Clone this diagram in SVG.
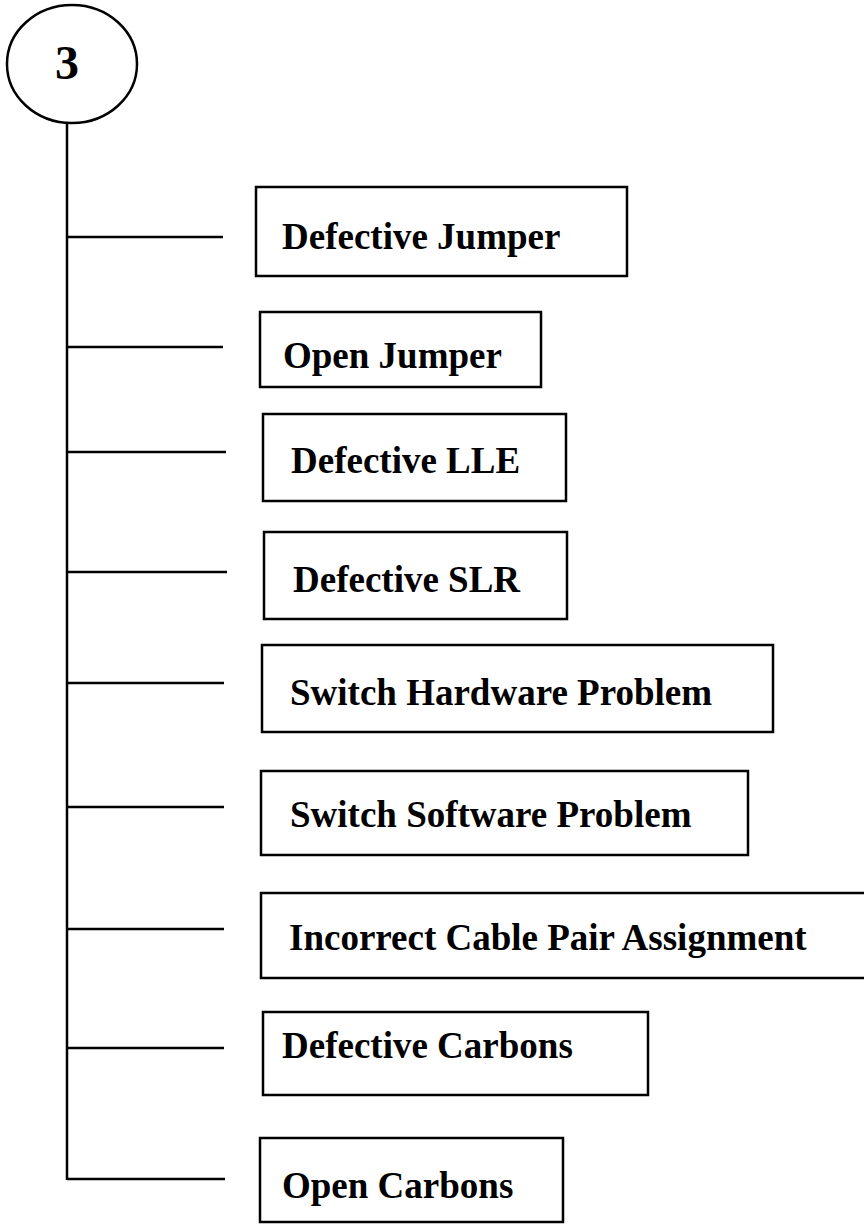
<svg xmlns="http://www.w3.org/2000/svg" width="864" height="1224" viewBox="0 0 864 1224">
<style>
.box{fill:#fff;stroke:#000;stroke-width:2.5}
.lbl{font-family:"Liberation Serif","Times New Roman",serif;font-weight:bold;font-size:37px;fill:#000}
.con{stroke:#000;stroke-width:2.5;fill:none}
</style>
<rect width="864" height="1224" fill="#fff"/>
<g id="connectors">
<line class="con" x1="67" y1="123" x2="67" y2="1180"/>
<line class="con" x1="67" y1="237" x2="223" y2="237"/>
<line class="con" x1="67" y1="347" x2="223" y2="347"/>
<line class="con" x1="67" y1="452" x2="226" y2="452"/>
<line class="con" x1="67" y1="572" x2="227" y2="572"/>
<line class="con" x1="67" y1="683" x2="224" y2="683"/>
<line class="con" x1="67" y1="807" x2="224" y2="807"/>
<line class="con" x1="67" y1="929" x2="224" y2="929"/>
<line class="con" x1="67" y1="1048" x2="224" y2="1048"/>
<line class="con" x1="67" y1="1179" x2="225" y2="1179"/>
</g>
<g id="root">
<ellipse cx="72" cy="64" rx="65" ry="59" fill="#fff" stroke="#000" stroke-width="2.5"/>
<text x="67" y="79" text-anchor="middle" font-family="Liberation Serif,'Times New Roman',serif" font-weight="bold" font-size="48">3</text>
</g>
<g id="n1"><rect class="box" x="256" y="187" width="371" height="89"/><text class="lbl" x="282" y="249">Defective Jumper</text></g>
<g id="n2"><rect class="box" x="260" y="312" width="281" height="75"/><text class="lbl" x="283" y="368">Open Jumper</text></g>
<g id="n3"><rect class="box" x="263" y="414" width="303" height="87"/><text class="lbl" x="291" y="473">Defective LLE</text></g>
<g id="n4"><rect class="box" x="264" y="532" width="303" height="87"/><text class="lbl" x="293" y="592">Defective SLR</text></g>
<g id="n5"><rect class="box" x="262" y="645" width="511" height="87"/><text class="lbl" x="290" y="705">Switch Hardware Problem</text></g>
<g id="n6"><rect class="box" x="261" y="771" width="487" height="84"/><text class="lbl" x="290" y="827">Switch Software Problem</text></g>
<g id="n7"><rect class="box" x="261" y="893" width="620" height="85"/><text class="lbl" x="289" y="950">Incorrect Cable Pair Assignment</text></g>
<g id="n8"><rect class="box" x="263" y="1012" width="385" height="83"/><text class="lbl" x="282" y="1058">Defective Carbons</text></g>
<g id="n9"><rect class="box" x="260" y="1138" width="303" height="84"/><text class="lbl" x="282" y="1198">Open Carbons</text></g>
</svg>
